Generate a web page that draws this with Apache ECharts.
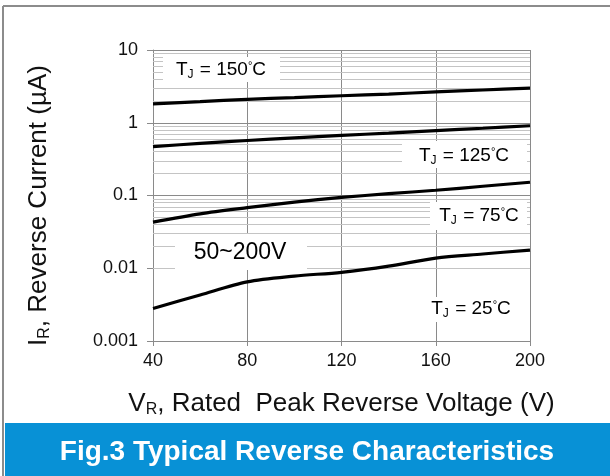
<!DOCTYPE html>
<html>
<head>
<meta charset="utf-8">
<script src="https://cdn.jsdelivr.net/npm/echarts@6/dist/echarts.min.js"></script>
<style>
html,body{margin:0;padding:0;background:#fff;}
#c{width:610px;height:476px;}
</style>
</head>
<body>
<div id="c"></div>
<script>
// ---- data ----
var voltages = [40, 60, 80, 100, 120, 140, 160, 180, 200];
var t150 = [1.82, 1.95, 2.1, 2.22, 2.35, 2.48, 2.65, 2.82, 3.0];
var t125 = [0.47, 0.52, 0.57, 0.62, 0.67, 0.72, 0.78, 0.84, 0.91];
var t75  = [0.043, 0.056, 0.068, 0.081, 0.094, 0.106, 0.118, 0.134, 0.152];
var t25  = [0.0028, 0.0043, 0.0065, 0.0078, 0.0088, 0.0107, 0.0138, 0.0157, 0.0178];
var xTicks = [40, 80, 120, 160, 200];
var yTickLabels = ['0.001', '0.01', '0.1', '1', '10'];
var minorMultipliers = [2, 3, 4, 5, 6, 7, 8, 9];
var decades = [0.001, 0.01, 0.1, 1];

function pairs(arr) { return voltages.map(function (v, i) { return [v, arr[i]]; }); }

var minorLines = [];
decades.forEach(function (d) {
  minorMultipliers.forEach(function (m) { minorLines.push({ yAxis: +(d * m).toPrecision(3) }); });
});

var chart = echarts.init(document.getElementById('c'), null, { renderer: 'canvas' });

var FONT = 'Liberation Sans, Arial, sans-serif';
function curve(name, arr) {
  return {
    name: name, type: 'line', data: pairs(arr), smooth: 0.3, showSymbol: false,
    lineStyle: { color: '#000', width: 3.2 }, z: 5, silent: true
  };
}
function tjRich(fs) {
  return {
    a: { fontSize: fs, fontFamily: FONT, color: '#000' },
    s: { fontSize: Math.round(fs * 0.63), fontFamily: FONT, color: '#000', padding: [10, 1, 0, 0] },
    d: { fontSize: Math.round(fs * 0.6), fontFamily: FONT, color: '#000', padding: [0, 0, 8, 0] }
  };
}
function labelBox(x, y, w, h, cx, cy, temp) {
  return {
    type: 'group', children: [
      { type: 'rect', z: 100, shape: { x: x, y: y, width: w, height: h }, style: { fill: '#fff' } },
      { type: 'text', z: 101, x: cx, y: cy, style: {
        text: '{a|T}{s|J}{a| = ' + temp + '}{d|°}{a|C}', rich: tjRich(19),
        align: 'center', verticalAlign: 'middle' } }
    ]
  };
}
var nameRich = {
  a: { fontSize: 26, fontFamily: FONT, color: '#111' },
  s: { fontSize: 16, fontFamily: FONT, color: '#111', padding: [13, 0, 0, 0] }
};

var option = {
  animation: false,
  backgroundColor: '#fff',
  grid: { left: 153, right: 80, top: 50, bottom: 135, show: false },
  xAxis: {
    type: 'value', min: 40, max: 200, interval: 40,
    axisLine: { show: true, lineStyle: { color: '#8a8a8a', width: 1 } },
    axisTick: { show: true, length: 5, lineStyle: { color: '#8a8a8a' } },
    axisLabel: { color: '#111', fontSize: 18, fontFamily: FONT, margin: 11 },
    splitLine: { show: true, lineStyle: { color: '#8a8a8a', width: 1 } },
    name: '{a|V}{s|R}{a|, Rated  Peak Reverse Voltage (V)}',
    nameLocation: 'middle', nameGap: 48,
    nameTextStyle: { rich: nameRich }
  },
  yAxis: {
    type: 'log', logBase: 10, min: 0.001, max: 10,
    axisLine: { show: true, lineStyle: { color: '#8a8a8a', width: 1 } },
    axisTick: { show: true, length: 6, lineStyle: { color: '#8a8a8a' } },
    axisLabel: { color: '#111', fontSize: 18, fontFamily: FONT, margin: 15,
      formatter: function (v) { var k = Math.round(Math.log10(v)) + 3; return yTickLabels[k] || ''; } },
    splitLine: { show: true, lineStyle: { color: '#8a8a8a', width: 1 } },
    name: '{a|I}{s|R}{a|, Reverse Current (µA)}',
    nameLocation: 'middle', nameGap: 100, nameRotate: 90,
    nameTextStyle: { rich: nameRich, padding: [0, 20, 0, 0] }
  },
  series: [
    {
      type: 'line', data: [], silent: true, z: 1,
      markLine: {
        silent: true, symbol: ['none', 'none'], animation: false,
        label: { show: false },
        lineStyle: { color: '#c4c4c4', width: 1, type: 'solid' },
        data: minorLines
      }
    },
    {
      type: 'line', data: [], silent: true, z: 2,
      markLine: {
        silent: true, symbol: ['none', 'none'], animation: false,
        label: { show: false },
        lineStyle: { color: '#8a8a8a', width: 1, type: 'solid' },
        data: [{ xAxis: 200 }, { yAxis: 10 }]
      }
    },
    curve('150', t150),
    curve('125', t125),
    curve('75', t75),
    curve('25', t25)
  ],
  graphic: [
    { type: 'rect', shape: { x: 5, y: 423, width: 605, height: 53 }, style: { fill: '#0891d6' }, z: 10 },
    { type: 'text', x: 307, y: 452, z: 11, style: { text: 'Fig.3 Typical Reverse Characteristics',
      fill: '#fff', font: 'bold 28px ' + FONT, align: 'center', verticalAlign: 'middle' } },
    { type: 'line', shape: { x1: 3, y1: 6, x2: 610, y2: 6 }, style: { stroke: '#8c8c8c', lineWidth: 2 }, z: 12 },
    { type: 'line', shape: { x1: 3, y1: 6, x2: 3, y2: 476 }, style: { stroke: '#8c8c8c', lineWidth: 2 }, z: 12 },
    labelBox(163, 57, 117, 25, 221, 70, '150'),
    labelBox(402, 141, 125, 27, 464, 156, '125'),
    labelBox(430, 202, 97, 28, 479, 216, '75'),
    labelBox(423, 297, 97, 25, 471, 309, '25'),
    { type: 'group', children: [
      { type: 'rect', z: 100, shape: { x: 175, y: 234, width: 132, height: 36 }, style: { fill: '#fff' } },
      { type: 'text', z: 101, x: 240, y: 253, style: { text: '50~200V', fill: '#000',
        font: '23px ' + FONT, align: 'center', verticalAlign: 'middle' } }
    ] }
  ]
};
chart.setOption(option);
</script>
</body>
</html>
